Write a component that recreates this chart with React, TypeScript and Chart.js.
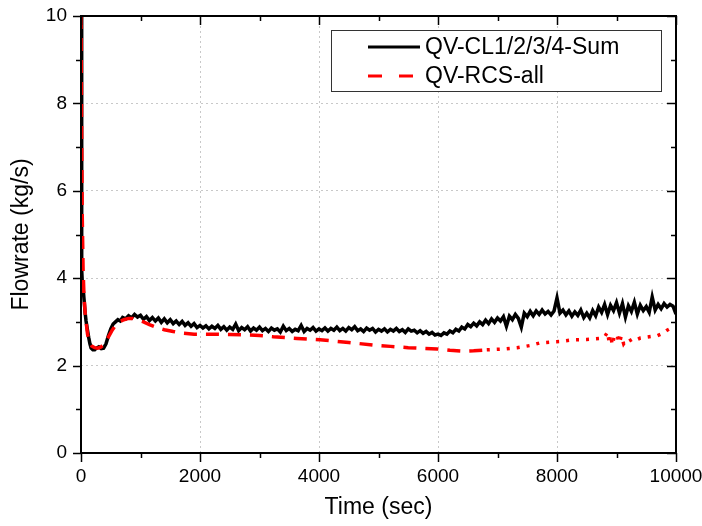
import React, { useEffect, useRef } from "react";
import { Chart, registerables } from "chart.js";

Chart.register(...registerables);

const seriesLabels = ["QV-CL1/2/3/4-Sum", "QV-RCS-all"];
const xTitle = "Time (sec)";
const yTitle = "Flowrate (kg/s)";

const xMajorTicks = [0, 2000, 4000, 6000, 8000, 10000];
const xMinorTicks = [1000, 3000, 5000, 7000, 9000];
const yMajorTicks = [0, 2, 4, 6, 8, 10];
const yMinorTicks = [1, 3, 5, 7, 9];

const timeSum = [
  0, 8, 15, 25, 40, 55, 70, 85, 110, 130, 150, 170, 200, 230, 260, 300, 340, 380, 420, 460,
  500, 540, 580, 620, 660, 700, 750, 800, 850, 900, 950, 1000, 1050, 1100, 1150, 1200, 1250, 1300, 1350, 1400,
  1450, 1500, 1550, 1600, 1650, 1700, 1750, 1800, 1850, 1900, 1950, 2000, 2050, 2100, 2150, 2200, 2250, 2300, 2350, 2400,
  2450, 2500, 2550, 2600, 2650, 2700, 2750, 2800, 2850, 2900, 2950, 3000, 3050, 3100, 3150, 3200, 3250, 3300, 3350, 3400,
  3450, 3500, 3550, 3600, 3650, 3700, 3750, 3800, 3850, 3900, 3950, 4000, 4050, 4100, 4150, 4200, 4250, 4300, 4350, 4400,
  4450, 4500, 4550, 4600, 4650, 4700, 4750, 4800, 4850, 4900, 4950, 5000, 5050, 5100, 5150, 5200, 5250, 5300, 5350, 5400,
  5450, 5500, 5550, 5600, 5650, 5700, 5750, 5800, 5850, 5900, 5950, 6000, 6050, 6100, 6150, 6200, 6250, 6300, 6350, 6400,
  6450, 6500, 6550, 6600, 6650, 6700, 6750, 6800, 6850, 6900, 6950, 7000, 7050, 7100, 7150, 7200, 7250, 7300, 7350, 7400,
  7450, 7500, 7550, 7600, 7650, 7700, 7750, 7800, 7850, 7900, 7950, 8000, 8050, 8100, 8150, 8200, 8250, 8300, 8350, 8400,
  8450, 8500, 8550, 8600, 8650, 8700, 8750, 8800, 8850, 8900, 8950, 9000, 9050, 9100, 9150, 9200, 9250, 9300, 9350, 9400,
  9450, 9500, 9550, 9600, 9650, 9700, 9750, 9800, 9850, 9900, 9950, 10000,
];
const flowSum = [
  10, 7.0, 4.2, 3.8, 3.7, 3.45, 3.2, 3.02, 2.8, 2.64, 2.5, 2.4, 2.36, 2.36, 2.4, 2.43, 2.39, 2.4, 2.5, 2.68,
  2.84, 2.95, 3.0, 3.05, 3.02, 3.1, 3.07, 3.14, 3.09, 3.17, 3.11, 3.15, 3.06, 3.12, 3.03, 3.1, 3.02, 3.09, 2.99, 3.07,
  2.98, 3.05, 2.96, 3.02, 2.94, 3.01, 2.92, 2.98, 2.9, 2.96, 2.87, 2.92, 2.86, 2.91, 2.84, 2.9, 2.85, 2.92, 2.83, 2.89,
  2.81, 2.88, 2.83, 2.95, 2.8, 2.87, 2.82, 2.89, 2.79, 2.86, 2.81, 2.88, 2.8, 2.85, 2.78, 2.86, 2.81, 2.84, 2.77, 2.9,
  2.8, 2.85, 2.78, 2.83, 2.8, 2.92, 2.78, 2.85, 2.81, 2.87, 2.79, 2.84, 2.8, 2.86, 2.79, 2.85, 2.81, 2.88, 2.8, 2.85,
  2.79, 2.87, 2.82, 2.89, 2.8, 2.84, 2.78, 2.86, 2.81, 2.85, 2.77, 2.83, 2.79, 2.84, 2.77, 2.83, 2.79, 2.85, 2.78, 2.82,
  2.76, 2.84, 2.79, 2.81, 2.75, 2.8, 2.74, 2.78, 2.72, 2.76, 2.7, 2.72, 2.69, 2.75, 2.72, 2.79, 2.75, 2.83, 2.79, 2.88,
  2.84, 2.94, 2.89, 2.97, 2.91, 3.0, 2.94, 3.04, 2.96, 3.07, 2.99, 3.09, 3.02, 3.12, 2.9, 3.13, 3.05, 3.17, 3.08, 2.88,
  3.2, 3.12, 3.24, 3.14, 3.25, 3.17, 3.27, 3.18, 3.24, 3.16, 3.25, 3.55, 3.2, 3.27, 3.16, 3.25, 3.13, 3.23, 3.15, 3.27,
  3.1, 3.2, 3.09, 3.26, 3.14, 3.34, 3.22, 3.4, 3.17, 3.38, 3.26, 3.44, 3.2, 3.42, 3.11, 3.37, 3.24, 3.45, 3.18, 3.38,
  3.26, 3.35, 3.22, 3.57, 3.27, 3.4, 3.3, 3.42, 3.34, 3.4, 3.36, 3.18,
];

const timeRcs = [
  0, 10, 20, 35, 50, 70, 90, 110, 140, 180, 230, 280, 330, 380, 450, 520, 580, 640, 720, 800,
  870, 950, 1050, 1150, 1280, 1400, 1550, 1720, 1900, 2170, 2500, 2790, 3000, 3230, 3630, 4017, 4500, 4900, 5200, 5500,
  5983, 6200, 6420, 6600, 6820, 7100, 7330, 7550, 7714, 7900, 8050, 8270, 8500, 8720, 8800, 8850, 8880, 8900, 8930, 8960,
  9000, 9050, 9080, 9120, 9160, 9200, 9260, 9300, 9400, 9500, 9600, 9680, 9780, 9850, 9920,
];
const flowRcs = [
  10, 7.5, 5.5, 4.2, 3.6, 3.2, 2.95, 2.72, 2.55, 2.45, 2.41, 2.4, 2.42, 2.48, 2.63, 2.8, 2.92, 3.0, 3.05, 3.08,
  3.08, 3.04, 3.0, 2.94, 2.87, 2.82, 2.78, 2.74, 2.72, 2.72, 2.71, 2.7, 2.69, 2.66, 2.62, 2.59, 2.53, 2.47, 2.44, 2.41,
  2.38, 2.35, 2.33, 2.34, 2.36, 2.38, 2.41, 2.46, 2.52, 2.54, 2.55, 2.59, 2.6, 2.62, 2.66, 2.77, 2.5, 2.7, 2.47, 2.65,
  2.72, 2.52, 2.68, 2.5, 2.58, 2.55, 2.6, 2.57, 2.63, 2.65, 2.67, 2.68, 2.74, 2.81, 2.86,
];

const FONT = "'Liberation Sans', Arial, Helvetica, sans-serif";

const framePlugin = {
  id: "frame",
  afterDraw(chart: any) {
    const { ctx, chartArea: ca, scales } = chart;
    const xs = scales.x;
    const ys = scales.y;
    ctx.save();
    ctx.strokeStyle = "#000";
    ctx.lineWidth = 2;
    ctx.strokeRect(ca.left, ca.top, ca.right - ca.left, ca.bottom - ca.top);
    ctx.lineWidth = 1.5;
    const tick = (x1: number, y1: number, x2: number, y2: number) => {
      ctx.beginPath();
      ctx.moveTo(x1, y1);
      ctx.lineTo(x2, y2);
      ctx.stroke();
    };
    xMajorTicks.forEach((v) => {
      const p = Math.round(xs.getPixelForValue(v)) + 0.5;
      tick(p, ca.bottom, p, ca.bottom + 9);
      tick(p, ca.top, p, ca.top + 9);
    });
    xMinorTicks.forEach((v) => {
      const p = Math.round(xs.getPixelForValue(v)) + 0.5;
      tick(p, ca.bottom, p, ca.bottom + 5);
      tick(p, ca.top, p, ca.top + 5);
    });
    yMajorTicks.forEach((v) => {
      const p = Math.round(ys.getPixelForValue(v)) + 0.5;
      tick(ca.left - 8, p, ca.left, p);
      tick(ca.right, p, ca.right - 9, p);
    });
    yMinorTicks.forEach((v) => {
      const p = Math.round(ys.getPixelForValue(v)) + 0.5;
      tick(ca.left - 5, p, ca.left, p);
      tick(ca.right, p, ca.right - 5, p);
    });

    // legend box
    const bx = ca.right - 345;
    const by = ca.top + 14;
    const bw = 330;
    const bh = 61;
    ctx.fillStyle = "#fff";
    ctx.fillRect(bx, by, bw, bh);
    ctx.lineWidth = 1;
    ctx.strokeStyle = "#333";
    ctx.strokeRect(bx + 0.5, by + 0.5, bw, bh);
    const ds = chart.data.datasets;
    const rows = [by + 17, by + 46];
    ds.forEach((d: any, i: number) => {
      ctx.strokeStyle = d.borderColor;
      ctx.lineWidth = 3;
      ctx.setLineDash(i === 1 ? [14, 17] : []);
      ctx.beginPath();
      ctx.moveTo(bx + 37, rows[i]);
      ctx.lineTo(bx + 89, rows[i]);
      ctx.stroke();
      ctx.setLineDash([]);
      ctx.fillStyle = "#000";
      ctx.font = `23px ${FONT}`;
      ctx.textBaseline = "middle";
      ctx.textAlign = "left";
      ctx.fillText(d.label, bx + 94, rows[i] + 1);
    });
    ctx.restore();
  },
};

export default function App() {
  const ref = useRef<HTMLCanvasElement | null>(null);

  useEffect(() => {
    if (!ref.current) return;
    const sumData = timeSum.map((t, i) => ({ x: t, y: flowSum[i] }));
    const rcsData = timeRcs.map((t, i) => ({ x: t, y: flowRcs[i] }));
    const chart = new Chart(ref.current, {
      type: "line",
      data: {
        datasets: [
          {
            label: seriesLabels[0],
            data: sumData,
            borderColor: "#000000",
            borderWidth: 3.5,
            pointRadius: 0,
            tension: 0,
            order: 1,
          },
          {
            label: seriesLabels[1],
            data: rcsData,
            borderColor: "#ff0000",
            borderWidth: 3.5,
            borderDash: [13, 9],
            pointRadius: 0,
            tension: 0,
            order: 0,
            segment: {
              borderDash: (c: any) => (c.p0.parsed.x >= 6700 ? [3, 7] : [13, 9]),
            },
          },
        ],
      },
      options: {
        animation: false,
        responsive: true,
        maintainAspectRatio: false,
        layout: { padding: { left: 0, top: 16, right: 26, bottom: 0 } },
        plugins: {
          legend: { display: false },
          tooltip: { enabled: false },
        },
        scales: {
          x: {
            type: "linear",
            min: 0,
            max: 10000,
            afterFit: (s: any) => {
              s.height = 73;
              s.paddingLeft = 0;
              s.paddingRight = 0;
            },
            afterBuildTicks: (s: any) => {
              s.ticks = xMajorTicks.map((v) => ({ value: v }));
            },
            ticks: {
              color: "#000",
              font: { family: FONT, size: 19 },
              padding: 12,
              maxRotation: 0,
              autoSkip: false,
              callback: (v: any) => String(v),
            },
            grid: { color: "#c8c8c8", lineWidth: 1, drawTicks: false },
            border: { display: false, dash: [2, 3] },
            title: {
              display: true,
              text: xTitle,
              color: "#000",
              font: { family: FONT, size: 23 },
              padding: { top: 0, bottom: 5 },
            },
          },
          y: {
            type: "linear",
            min: 0,
            max: 10,
            afterFit: (s: any) => {
              s.width = 81;
              s.paddingTop = 0;
              s.paddingBottom = 0;
            },
            afterBuildTicks: (s: any) => {
              s.ticks = yMajorTicks.map((v) => ({ value: v }));
            },
            ticks: {
              color: "#000",
              font: { family: FONT, size: 19 },
              padding: 14,
              autoSkip: false,
              callback: (v: any) => String(v),
            },
            grid: { color: "#c8c8c8", lineWidth: 1, drawTicks: false },
            border: { display: false, dash: [2, 3] },
            title: {
              display: true,
              text: yTitle,
              color: "#000",
              font: { family: FONT, size: 23 },
              padding: { top: 8, bottom: 0 },
            },
          },
        },
      },
      plugins: [framePlugin],
    });
    return () => chart.destroy();
  }, []);

  return (
    <div style={{ position: "absolute", left: 0, top: 0, width: 702, height: 526, background: "#fff" }}>
      <canvas ref={ref} />
    </div>
  );
}
